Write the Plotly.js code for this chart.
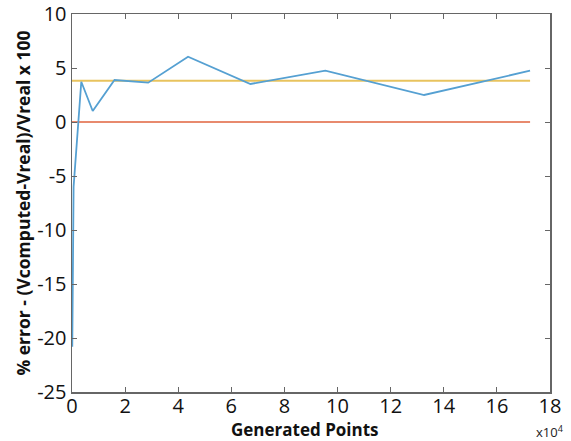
<!DOCTYPE html>
<html>
<head>
<meta charset="utf-8">
<script src="https://cdn.plot.ly/plotly-3.0.1.min.js"></script>
<style>html,body{margin:0;padding:0;background:#fff;}#chart{width:571px;height:441px;}</style>
</head>
<body>
<div id="chart"></div>
<script>
// Generated points (units of 1e4) and % error
const generatedPoints = [0.01, 0.06, 0.35, 0.78, 1.6, 2.87, 4.37, 6.72, 9.54, 13.26, 17.25];
const percentError   = [-20.8, -6.0, 3.73, 1.02, 3.89, 3.64, 6.04, 3.52, 4.75, 2.5, 4.75];
const refX = [0, 17.25];
const zeroLine = [0, 0];
const meanLine = [3.82, 3.82];
const xTicks = [0, 2, 4, 6, 8, 10, 12, 14, 16, 18];
const yTicks = [-25, -20, -15, -10, -5, 0, 5, 10];

const traces = [
  {x: refX, y: zeroLine, mode: 'lines', line: {color: '#e88a6e', width: 1.8}, hoverinfo: 'skip'},
  {x: refX, y: meanLine, mode: 'lines', line: {color: '#e8c35e', width: 1.8}, hoverinfo: 'skip'},
  {x: generatedPoints, y: percentError, mode: 'lines', line: {color: '#55a0d2', width: 1.8}}
];

const axisCommon = {
  showline: true, linecolor: '#666', linewidth: 1.5, mirror: 'ticks',
  ticks: 'inside', ticklen: 5, tickwidth: 1, tickcolor: '#666',
  showgrid: false, zeroline: false,
  tickfont: {family: 'Open Sans, sans-serif', size: 20, color: '#111'}
};

const layout = {
  width: 571, height: 441,
  margin: {l: 71.5, r: 21, t: 14, b: 48.5},
  paper_bgcolor: '#fff', plot_bgcolor: '#fff',
  showlegend: false,
  xaxis: Object.assign({}, axisCommon, {
    range: [0, 18], tickvals: xTicks, ticktext: xTicks.map(String),
    ticklabelstandoff: -5
  }),
  yaxis: Object.assign({}, axisCommon, {
    range: [-25, 10], tickvals: yTicks, ticktext: yTicks.map(String),
    title: {text: '<b>% error - (Vcomputed-Vreal)/Vreal x 100</b>', font: {family: 'Open Sans, sans-serif', size: 17.5, color: '#111'}, standoff: 2}
  }),
  annotations: [
    {
      xref: 'paper', yref: 'paper', x: 0.488, y: 0, xanchor: 'center', yanchor: 'top', yshift: -24,
      text: '<b>Generated Points</b>', showarrow: false,
      font: {family: 'Open Sans, sans-serif', size: 17, color: '#111'}
    },
    {
      xref: 'paper', yref: 'paper', x: 1.0, y: 0, xanchor: 'center', yanchor: 'top', yshift: -28, xshift: 0,
      text: 'x10<sup>4</sup>', showarrow: false,
      font: {family: 'Open Sans, sans-serif', size: 13, color: '#222'}
    }
  ]
};

Plotly.newPlot('chart', traces, layout, {displayModeBar: false, staticPlot: true});
</script>
</body>
</html>
